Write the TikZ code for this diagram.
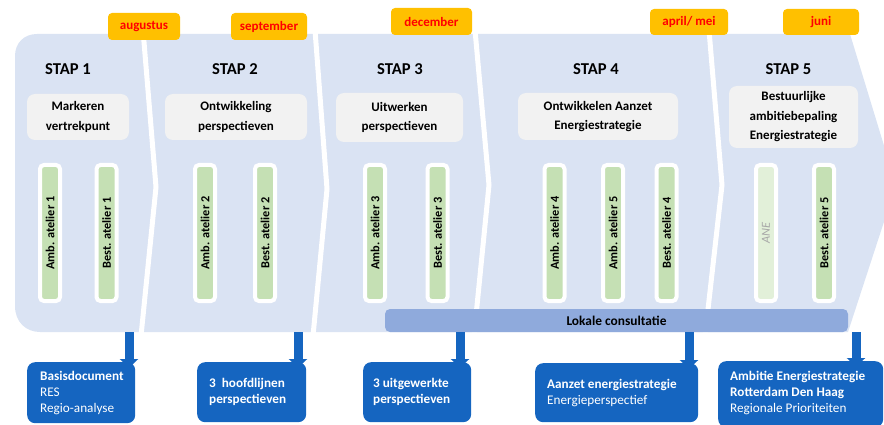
\documentclass[tikz,border=0pt]{standalone}
\usepackage{fontspec}
\setmainfont{Carlito}
\usetikzlibrary{arrows.meta}
\definecolor{stagebg}{HTML}{DAE3F3}
\definecolor{descgray}{HTML}{F2F2F2}
\definecolor{bargreen}{HTML}{C5E0B4}
\definecolor{anegreen}{HTML}{E2F0D9}
\definecolor{anetext}{HTML}{A6A6A6}
\definecolor{monthorange}{HTML}{FFC000}
\definecolor{monthred}{HTML}{FF0000}
\definecolor{lokaleblue}{HTML}{8FAADC}
\definecolor{outblue}{HTML}{1565C0}
\begin{document}
\begin{tikzpicture}[x=1pt,y=-1pt,
  stagesep/.style={draw=white,line width=5pt,line join=miter},
  stagetitle/.style={font=\fontsize{16.6}{19}\selectfont\bfseries,inner sep=0pt},
  descbox/.style={fill=descgray,rounded corners=8pt,align=center,inner sep=0pt,
    font=\fontsize{13}{19.5}\selectfont\bfseries},
  monthbox/.style={fill=monthorange,rounded corners=4pt,inner sep=0pt,
    text=monthred,font=\fontsize{13}{15}\selectfont\bfseries},
  barbox/.style={fill=bargreen,draw=white,line width=4pt,rounded corners=4pt,rotate=90,
    minimum width=136pt,minimum height=20pt,inner sep=0pt,
    font=\fontsize{12.3}{14}\selectfont\bfseries},
  anebox/.style={barbox,fill=anegreen,text=anetext,font=\fontsize{12.3}{14}\selectfont\itshape},
  lokale/.style={fill=lokaleblue,rounded corners=5pt,inner sep=0pt,
    font=\fontsize{13.4}{15}\selectfont\bfseries},
  outbox/.style={fill=outblue,rounded corners=8pt,inner sep=0pt,anchor=north west},
  outtext/.style={text=white,align=left,inner sep=0pt,anchor=west,
    font=\fontsize{13.2}{16}\selectfont},
  outarrow/.style={draw=outblue,line width=9pt,
    -{Triangle[width=18pt,length=9pt]},shorten >=-6pt}
]
\useasboundingbox (0,0) rectangle (884,425);
\begin{scope}
\clip (0,0) rectangle (884,425);
% stage background
\fill[stagebg] (850,34) -- (896,185) -- (848,332) -- (40,332)
  .. controls (26,332) and (15,322) .. (15,306) -- (15,56)
  .. controls (15,43) and (24,34) .. (37,34) -- cycle;
% separators
\draw[stagesep] (143,30) -- (156,187) -- (141,336);
\draw[stagesep] (315,30) -- (327,189) -- (313,336);
\draw[stagesep] (475,30) -- (489,185) -- (474,336);
\draw[stagesep] (709,30) -- (722,185) -- (705,336);

% month labels
\node[monthbox,minimum width=72pt,minimum height=27pt] (m1) at (144,26.5) {augustus};
\node[monthbox,minimum width=76pt,minimum height=27pt] (m2) at (269,26.5) {september};
\node[monthbox,minimum width=81pt,minimum height=27pt] (m3) at (431.5,21.5) {december};
\node[monthbox,minimum width=78pt,minimum height=26pt] (m4) at (689,22) {april/ mei};
\node[monthbox,minimum width=76pt,minimum height=26pt] (m5) at (821,22) {juni};

% titles
\node[stagetitle] (t1) at (68,69) {STAP 1};
\node[stagetitle] (t2) at (235,69) {STAP 2};
\node[stagetitle] (t3) at (400,69) {STAP 3};
\node[stagetitle] (t4) at (596,69) {STAP 4};
\node[stagetitle] (t5) at (788.5,69) {STAP 5};

% description boxes
\node[descbox,minimum width=102pt,minimum height=46pt] (d1) at (78,117) {Markeren\\vertrekpunt};
\node[descbox,minimum width=142pt,minimum height=46pt] (d2) at (236,117) {Ontwikkeling\\perspectieven};
\node[descbox,minimum width=127pt,minimum height=49pt] (d3) at (399.5,117.5) {Uitwerken\\perspectieven};
\node[descbox,minimum width=160pt,minimum height=47pt] (d4) at (598,116.5) {Ontwikkelen Aanzet\\Energiestrategie};
\node[descbox,minimum width=129pt,minimum height=62pt] (d5) at (793.5,117) {Bestuurlijke\\ambitiebepaling\\Energiestrategie};

% atelier bars
\node[barbox] (b1) at (50,233) {Amb. atelier 1};
\node[barbox] (b2) at (106.5,233) {Best. atelier 1};
\node[barbox] (b3) at (205,233) {Amb. atelier 2};
\node[barbox] (b4) at (265,233) {Best. atelier 2};
\node[barbox] (b5) at (375,233) {Amb. atelier 3};
\node[barbox] (b6) at (437.5,233) {Best. atelier 3};
\node[barbox] (b7) at (554.5,233) {Amb. atelier 4};
\node[barbox] (b8) at (613,233) {Amb. atelier 5};
\node[barbox] (b9) at (666.5,233) {Best. atelier 4};
\node[anebox] (b10) at (766,233) {ANE};
\node[barbox] (b11) at (824,233) {Best. atelier 5};

% lokale consultatie
\node[lokale,minimum width=463pt,minimum height=23pt] (lok) at (616.5,320.5) {Lokale consultatie};

% output boxes
\node[outbox,minimum width=108pt,minimum height=61pt] (o1) at (27,362) {};
\node[outbox,minimum width=109pt,minimum height=60pt] (o2) at (197,362) {};
\node[outbox,minimum width=108pt,minimum height=60pt] (o3) at (363,362) {};
\node[outbox,minimum width=163pt,minimum height=59pt] (o4) at (535,363) {};
\node[outbox,minimum width=165pt,minimum height=66pt] (o5) at (718,361) {};

\node[outtext] (o1t) at ([xshift=13pt]o1.west) {\textbf{Basisdocument}\\RES\\Regio-analyse};
\node[outtext] (o2t) at ([xshift=12pt]o2.west) {\textbf{3~\ hoofdlijnen}\\\textbf{perspectieven}};
\node[outtext] (o3t) at ([xshift=10pt]o3.west) {\textbf{3 uitgewerkte}\\\textbf{perspectieven}};
\node[outtext] (o4t) at ([xshift=12pt]o4.west) {\textbf{Aanzet energiestrategie}\\Energieperspectief};
\node[outtext] (o5t) at ([xshift=12pt,yshift=1.5pt]o5.west) {\textbf{Ambitie Energiestrategie}\\\textbf{Rotterdam Den Haag}\\Regionale Prioriteiten};

% arrows
\coordinate (a1) at (129,332);
\coordinate (a2) at (298,332);
\coordinate (a3) at (460,332);
\coordinate (a4) at (689,332);
\coordinate (a5) at (856,332);
\draw[outarrow] (a1) -- (o1.north -| a1);
\draw[outarrow] (a2) -- (o2.north -| a2);
\draw[outarrow] (a3) -- (o3.north -| a3);
\draw[outarrow] (a4) -- (o4.north -| a4);
\draw[outarrow] (a5) -- (o5.north -| a5);
\end{scope}
\end{tikzpicture}
\end{document}
